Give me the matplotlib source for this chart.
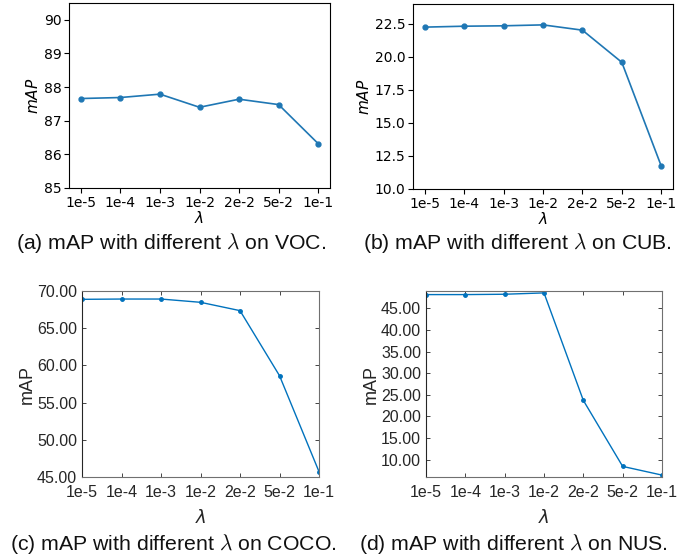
import numpy as np
import matplotlib
matplotlib.use("Agg")
import matplotlib.pyplot as plt

lambdas = ["1e-5", "1e-4", "1e-3", "1e-2", "2e-2", "5e-2", "1e-1"]
voc = [87.66, 87.69, 87.79, 87.40, 87.64, 87.48, 86.32]
cub = [22.25, 22.32, 22.35, 22.42, 22.02, 19.59, 11.75]
coco = [68.88, 68.92, 68.92, 68.48, 67.36, 58.62, 45.72]
nus = [48.17, 48.17, 48.25, 48.56, 23.71, 8.45, 6.44]

W, H = 697, 559
fig = plt.figure(figsize=(W / 100, H / 100), dpi=100)


def box(l, t, r, b):
    return [l / W, 1 - b / H, (r - l) / W, (b - t) / H]


x = np.arange(len(lambdas))

# top row: default matplotlib look
def mpl_panel(rect, vals, ylim, yticks):
    ax = fig.add_axes(rect)
    ax.plot(x, vals, color="#1f77b4", marker="o", markersize=3.5, linewidth=1.2)
    ax.set_xticks(x)
    ax.set_xticklabels(lambdas)
    ax.set_ylim(*ylim)
    ax.set_yticks(yticks)
    ax.tick_params(labelsize=10, pad=2)
    ax.set_ylabel("$mAP$", fontsize=11, labelpad=2)
    ax.set_xlabel(r"$\lambda$", fontsize=11, labelpad=0)
    return ax


mpl_panel(box(69, 3, 330, 188), voc, (85, 90.5), [85, 86, 87, 88, 89, 90])
ax_b = mpl_panel(box(413, 4, 673, 189), cub, (10, 24), [10, 12.5, 15, 17.5, 20, 22.5])
ax_b.set_yticklabels(["10.0", "12.5", "15.0", "17.5", "20.0", "22.5"])

# bottom row: MATLAB-like look
mcol = "#262626"


def ml_panel(rect, vals, ylim, yticks):
    ax = fig.add_axes(rect)
    ax.plot(x, vals, color="#0072BD", marker=".", markersize=5, linewidth=1.0)
    ax.set_xlim(0, 6)
    ax.set_ylim(*ylim)
    ax.set_xticks(x)
    ax.set_xticklabels(lambdas, fontfamily="Liberation Sans")
    ax.set_yticks(yticks)
    ax.set_yticklabels(["%.2f" % v for v in yticks], fontfamily="Liberation Sans")
    ax.tick_params(direction="in", top=True, right=True, length=3, width=0.6,
                   colors=mcol, labelsize=11.5)
    ax.tick_params(axis="x", pad=6)
    for name, s in ax.spines.items():
        s.set_color(mcol if name == "left" else "#707070")
        s.set_linewidth(0.8)
    ax.set_ylabel("mAP", fontsize=13, color=mcol, fontfamily="Liberation Sans", labelpad=1)
    ax.set_xlabel(r"$\lambda$", fontsize=13, color=mcol, labelpad=6)
    return ax


ml_panel(box(82, 291, 319, 477), coco, (45, 70), [45, 50, 55, 60, 65, 70])
ml_panel(box(426, 291, 662, 477), nus, (6, 49), [10, 15, 20, 25, 30, 35, 40, 45])

captions = [
    (171, 243, r"(a) mAP with different $\lambda$ on VOC."),
    (517, 243, r"(b) mAP with different $\lambda$ on CUB."),
    (173, 544, r"(c) mAP with different $\lambda$ on COCO."),
    (513, 544, r"(d) mAP with different $\lambda$ on NUS."),
]
for cx, cy, txt in captions:
    fig.text(cx / W, 1 - cy / H, txt, ha="center", va="center", fontsize=15.3,
             fontfamily="Liberation Sans", math_fontfamily="cm", color="#111111")

fig.savefig("out.png", dpi=100)
